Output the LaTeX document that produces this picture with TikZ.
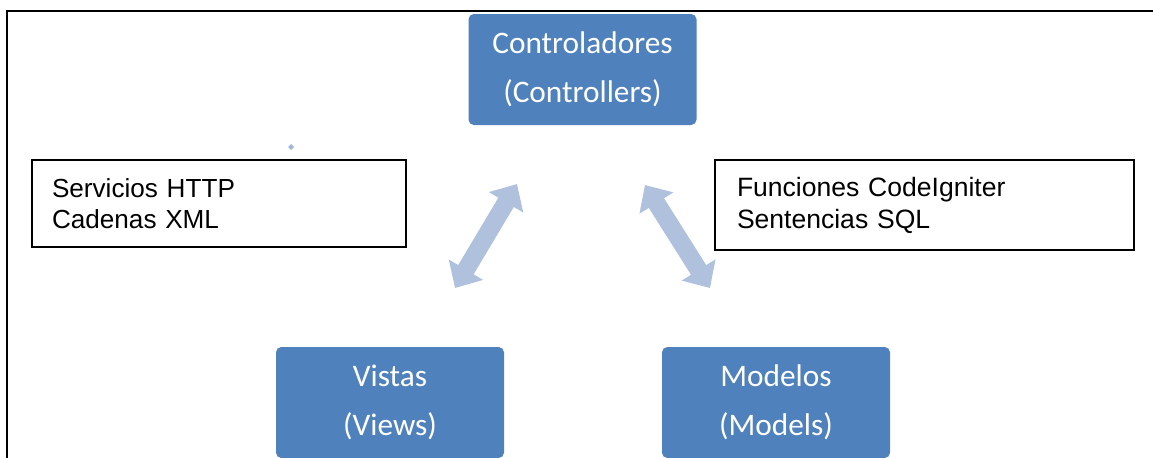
\documentclass[tikz,border=0pt]{standalone}
\usepackage{fontspec}
\setmainfont{Liberation Sans}
\newfontfamily\calibrifont{Carlito}
\usetikzlibrary{arrows.meta}
\definecolor{boxblue}{HTML}{4F81BD}
\definecolor{arrowblue}{HTML}{B0C1DD}
\definecolor{dotblue}{HTML}{A3B5D8}
\begin{document}
\begin{tikzpicture}[x=0.75pt,y=-0.75pt,
  mvc/.style={draw=none, fill=boxblue, rounded corners=4pt, minimum width=171pt,
    minimum height=83.25pt, inner sep=0pt, text=white, align=center,
    font=\calibrifont\fontsize{23.5}{37}\selectfont},
  note/.style={draw=black, line width=1.1pt, inner ysep=0pt, align=left},
  dbl/.style={draw=arrowblue, line width=13.5pt,
    {Triangle[length=16pt,width=29pt,fill=arrowblue]}-{Triangle[length=16pt,width=29pt,fill=arrowblue]}}
]
\useasboundingbox (0,0) rectangle (1153,457);
\clip (0,0) rectangle (1153,457);
\fill[white] (0,0) rectangle (1153,457);
% outer frame
\draw[line width=1.6pt] (7,480) -- (7,11) -- (1180,11);
% main boxes
\node[mvc] (ctrl) at (582.5,69.5) {Controladores\\(Controllers)};
\node[mvc] (vistas) at (390,402.5) {Vistas\\(Views)};
\node[mvc] (modelos) at (776,402.5) {Modelos\\(Models)};
% note boxes
\node[note, minimum width=280.5pt, minimum height=65.25pt, inner xsep=15pt, text width=250.5pt,
  font=\fontsize{19.6}{23.5}\selectfont] (http) at (219,203.5) {Servicios HTTP\\Cadenas XML};
\node[note, minimum width=314.25pt, minimum height=67.5pt, inner xsep=16.5pt, text width=281.25pt,
  font=\fontsize{19.9}{24}\selectfont] (sql) at (924.5,205) {Funciones CodeIgniter\\Sentencias SQL};
% arrows
\coordinate (vA) at (455,288);
\coordinate (cA) at (517,184);
\coordinate (cB) at (645,185);
\coordinate (mB) at (710,288);
\draw[dbl] (vA) -- (cA);
\draw[dbl] (cB) -- (mB);
% small dot
\fill[dotblue] (291,144) -- (294,147) -- (291,150) -- (288,147) -- cycle;
\end{tikzpicture}
\end{document}
